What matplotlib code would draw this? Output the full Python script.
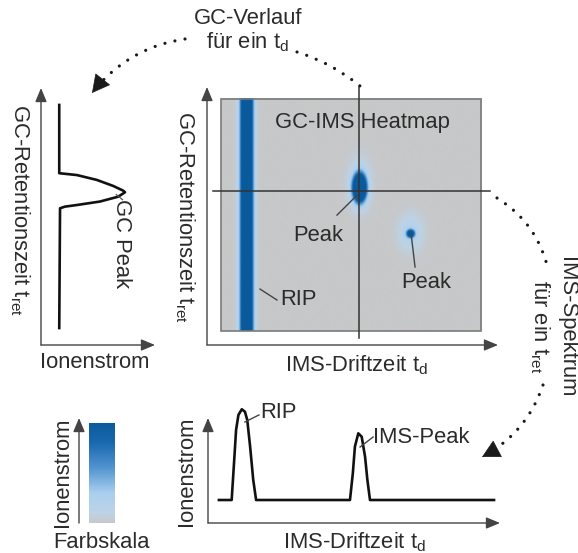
import numpy as np
import matplotlib
matplotlib.use('Agg')
import matplotlib.pyplot as plt
from matplotlib.colors import LinearSegmentedColormap, Normalize
from matplotlib.patches import Rectangle, FancyArrowPatch
import matplotlib.cm as cm

plt.rcParams['font.family'] = ['Liberation Sans', 'DejaVu Sans']
plt.rcParams['mathtext.fontset'] = 'custom'
plt.rcParams['mathtext.rm'] = 'Liberation Sans'
plt.rcParams['mathtext.it'] = 'Liberation Sans:italic'
plt.rcParams['mathtext.default'] = 'rm'

# ---------------- data ----------------
# heatmap: drift time td (0..10) x retention time ret (0..10)
rip_td, rip_sigma, rip_amp = 0.98, 0.15, 2.3
peak_td = [5.31, 7.27]
peak_ret = [6.15, 4.18]
peak_sigma_td = [0.155, 0.10]
peak_sigma_ret = [0.36, 0.112]
peak_amp = [3.0, 1.5]
halo_td = [5.31, 7.27]
halo_ret = [6.3, 4.22]
halo_sigma_td = [0.30, 0.33]
halo_sigma_ret = [0.75, 0.55]
halo_amp = [0.2, 0.2]
cross_td, cross_ret = 5.31, 6.03

# GC chromatogram for one td (ion current vs retention time)
gc_ion = [1.6, 1.6, 3.15, 4.9, 6.34, 7.2, 7.37, 6.78, 5.18, 3.15, 2.1, 1.67, 1.6]
gc_ret = [9.74, 6.8, 6.72, 6.51, 6.25, 6.05, 5.98, 5.79, 5.58, 5.43, 5.36, 5.29, 0.13]

# IMS spectrum for one t_ret (ion current vs drift time)
ims_td = [-0.08, 0.41, 0.5, 0.58, 0.67, 0.8, 0.92, 1.01, 1.12, 1.24, 1.35,
          4.96, 5.07, 5.15, 5.28, 5.41, 5.54, 5.63, 5.73, 10.5]
ims_int = [2.19, 2.19, 5.68, 8.86, 10.29, 10.83, 10.6, 9.81, 7.27, 4.1, 2.19,
           2.19, 4.73, 7.27, 8.54, 8.22, 6.32, 4.1, 2.19, 2.19]

cmap_colors = ['#c7c8c9', '#bdd3e6', '#a9cfee', '#5294d0', '#1a69b0', '#0a5a9c']
cmap_pos = [0.0, 0.1, 0.3, 0.55, 0.8, 1.0]

TXT = '#2b2b2b'
FS = 15.8

# ---------------- figure ----------------
W, H = 578, 553
fig = plt.figure(figsize=(W / 100, H / 100), dpi=100)


def box(x0, y0, x1, y1):
    return [x0 / W, 1 - y1 / H, (x1 - x0) / W, (y1 - y0) / H]


def fp(x, y):
    return (x / W, 1 - y / H)


def text(x, y, s, rot=0, **kw):
    fig.text(x / W, 1 - y / H, s, rotation=rot, ha='center', va='center',
             fontsize=kw.pop('fontsize', FS), color=TXT,
             rotation_mode='anchor', **kw)


ARROW = dict(arrowstyle='-|>,head_length=0.6,head_width=0.25', color='#444444',
             lw=1.0, shrinkA=0, shrinkB=0, mutation_scale=14)
LEAD = dict(color='#444444', lw=1.0)


def axis_arrows(ax):
    for sp in ax.spines.values():
        sp.set_visible(False)
    ax.set_xticks([])
    ax.set_yticks([])
    ax.patch.set_visible(False)
    ax.annotate('', xy=(0, 1), xytext=(0, 0), xycoords='axes fraction', arrowprops=ARROW)
    ax.annotate('', xy=(1, 0), xytext=(0, 0), xycoords='axes fraction', arrowprops=ARROW)


cmap = LinearSegmentedColormap.from_list('gcims', list(zip(cmap_pos, cmap_colors)))

# ---- heatmap ----
axh = fig.add_axes(box(207, 87, 498, 345))
axh.set_xlim(-0.54, 10.65)
axh.set_ylim(-0.60, 10.52)
td = np.linspace(0, 10, 700)
rt = np.linspace(0, 10, 700)
TD, RT = np.meshgrid(td, rt)
Z = rip_amp * np.exp(-0.5 * ((TD - rip_td) / rip_sigma) ** 2)
for x0, y0, sx, sy, a in zip(peak_td + halo_td, peak_ret + halo_ret,
                             peak_sigma_td + halo_sigma_td,
                             peak_sigma_ret + halo_sigma_ret, peak_amp + halo_amp):
    Z += a * np.exp(-0.5 * (((TD - x0) / sx) ** 2 + ((RT - y0) / sy) ** 2))
Z = np.clip(Z, 0, 1)
axh.imshow(Z, extent=[0, 10, 0, 10], origin='lower', cmap=cmap, vmin=0, vmax=1,
           aspect='auto', interpolation='bilinear')
axh.add_patch(Rectangle((0, 0), 10, 10, fill=False, ec='#7a7a7a', lw=1.2))
axh.plot([cross_td, cross_td], [-0.3, 10.5], color='#333333', lw=1.1, clip_on=False)
axh.plot([-0.31, 10.35], [cross_ret, cross_ret], color='#333333', lw=1.1, clip_on=False)
axis_arrows(axh)
axh.text(5.42, 9.0, 'GC-IMS Heatmap', ha='center', va='center', fontsize=FS, color=TXT)
axh.text(3.73, 4.14, 'Peak', ha='center', va='center', fontsize=FS, color=TXT)
axh.plot([4.46, 5.23], [5.0, 5.86], **LEAD)
axh.text(7.88, 2.11, 'Peak', ha='center', va='center', fontsize=FS, color=TXT)
axh.plot([7.31, 7.46], [4.18, 2.76], **LEAD)
axh.text(2.96, 1.34, 'RIP', ha='center', va='center', fontsize=FS, color=TXT)
axh.plot([1.5, 2.15], [1.81, 1.34], **LEAD)
text(185, 217, r'GC-Retentionszeit $\mathrm{t_{ret}}$', rot=-90)
text(357, 365, r'IMS-Driftzeit $\mathrm{t_d}$')

# ---- GC chromatogram panel ----
axg = fig.add_axes(box(41, 88, 155, 345))
axg.set_xlim(0, 10)
axg.set_ylim(-0.6, 10.47)
axg.plot(gc_ion, gc_ret, color='#111111', lw=1.9, solid_joinstyle='round')
axis_arrows(axg)
axg.plot([6.6, 7.15], [5.88, 5.66], color='#555555', lw=0.9)
text(122, 244, 'GC Peak', rot=-90)
text(20, 210, r'GC-Retentionszeit $\mathrm{t_{ret}}$', rot=-90)
text(95, 363, 'Ionenstrom')

# ---- IMS spectrum panel ----
axs = fig.add_axes(box(208, 418, 500, 523))
axs.set_xlim(-0.5, 10.73)
axs.set_ylim(0, 10)
axs.plot(ims_td, ims_int, color='#111111', lw=1.9, solid_joinstyle='round', clip_on=False)
axis_arrows(axs)
axs.text(1.5, 10.48, 'RIP', ha='left', va='center', fontsize=FS, color=TXT)
axs.plot([0.92, 1.46], [9.62, 10.29], clip_on=False, **LEAD)
axs.text(5.85, 8.1, 'IMS-Peak', ha='left', va='center', fontsize=FS, color=TXT)
axs.plot([5.35, 5.85], [7.24, 8.19], **LEAD)
text(187, 471, 'Ionenstrom', rot=90)
text(355, 542, r'IMS-Driftzeit $\mathrm{t_d}$')

# ---- colour scale ----
cax = fig.add_axes(box(89, 423, 115, 523))
cb = fig.colorbar(cm.ScalarMappable(norm=Normalize(0, 1), cmap=cmap), cax=cax)
cb.set_ticks([])
cb.outline.set_visible(False)
fig.add_artist(FancyArrowPatch(fp(79, 523), fp(79, 418), transform=fig.transFigure, **ARROW))
text(62, 472, 'Ionenstrom', rot=90)
text(101, 542, 'Farbskala')


# ---- dotted connectors ----
def dotted(p0, p1, rad, head):
    a = np.array([p0[0], H - p0[1]], float)
    b = np.array([p1[0], H - p1[1]], float)
    d = b - a
    c = (a + b) / 2 + rad * np.array([d[1], -d[0]])
    fig.add_artist(FancyArrowPatch(fp(*p0), fp(*p1), transform=fig.transFigure,
                                   connectionstyle=f'arc3,rad={rad}', arrowstyle='-',
                                   lw=2.3, linestyle=(0, (0.01, 3.2)),
                                   capstyle='round', color='#1a1a1a',
                                   shrinkA=0, shrinkB=9 if head else 0))
    if head:
        u = (b - c) / np.linalg.norm(b - c)
        s = b - 8 * u
        fig.add_artist(FancyArrowPatch((s[0] / W, s[1] / H), (b[0] / W, b[1] / H),
                                       transform=fig.transFigure,
                                       arrowstyle='-|>,head_length=0.85,head_width=0.45',
                                       mutation_scale=14, lw=0.5, color='#1a1a1a',
                                       shrinkA=0, shrinkB=0))


dotted((185, 39), (92, 93), 0.2, True)
dotted((297, 52), (360, 86), -0.1, False)
dotted((497, 198), (547, 265), -0.2, False)
dotted((543, 385), (482, 457), -0.2, True)

text(248, 18, 'GC-Verlauf')
text(248, 42, r'für ein $\mathrm{t_d}$')
text(567, 327, 'IMS-Spektrum', rot=-90)
text(540, 327, r'für ein $\mathrm{t_{ret}}$', rot=-90)

fig.savefig('out.png', dpi=100)
